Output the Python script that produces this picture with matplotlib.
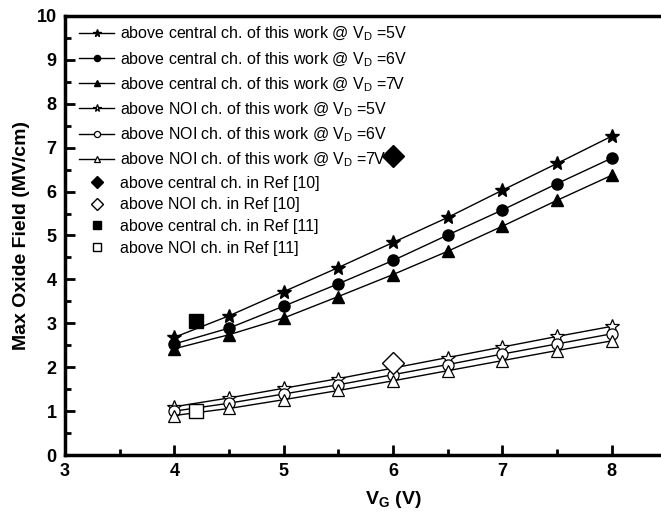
import matplotlib
matplotlib.use("Agg")
import matplotlib.pyplot as plt
from matplotlib.ticker import MultipleLocator, FixedLocator

plt.rcParams['font.family'] = ['Liberation Sans', 'DejaVu Sans']
plt.rcParams['mathtext.fontset'] = 'custom'
plt.rcParams['mathtext.rm'] = 'Liberation Sans'
plt.rcParams['mathtext.it'] = 'Liberation Sans'
plt.rcParams['mathtext.bf'] = 'Liberation Sans:bold'

# Gate voltage sweep
vg = [4.0, 4.5, 5.0, 5.5, 6.0, 6.5, 7.0, 7.5, 8.0]

# Field above the central channel of this work
central_vd5 = [2.68, 3.17, 3.72, 4.27, 4.84, 5.41, 6.03, 6.64, 7.26]
central_vd6 = [2.53, 2.89, 3.39, 3.90, 4.43, 5.01, 5.58, 6.18, 6.76]
central_vd7 = [2.42, 2.74, 3.12, 3.61, 4.11, 4.64, 5.21, 5.80, 6.37]

# Field above the NOI channel of this work
noi_vd5 = [1.10, 1.30, 1.52, 1.74, 1.98, 2.22, 2.46, 2.70, 2.93]
noi_vd6 = [1.00, 1.18, 1.39, 1.60, 1.83, 2.06, 2.30, 2.53, 2.76]
noi_vd7 = [0.90, 1.06, 1.26, 1.47, 1.69, 1.92, 2.15, 2.38, 2.60]

# Reference results
ref10_vg = 6.0
ref10_central = 6.8
ref10_noi = 2.1
ref11_vg = 4.2
ref11_central = 3.06
ref11_noi = 1.0

labels = [
    r'above central ch. of this work @ V$_\mathrm{D}$ =5V',
    r'above central ch. of this work @ V$_\mathrm{D}$ =6V',
    r'above central ch. of this work @ V$_\mathrm{D}$ =7V',
    r'above NOI ch. of this work @ V$_\mathrm{D}$ =5V',
    r'above NOI ch. of this work @ V$_\mathrm{D}$ =6V',
    r'above NOI ch. of this work @ V$_\mathrm{D}$ =7V',
    'above central ch. in Ref [10]',
    'above NOI ch. in Ref [10]',
    'above central ch. in Ref [11]',
    'above NOI ch. in Ref [11]',
]

xtick_values = [3, 4, 5, 6, 7, 8]

fig = plt.figure(figsize=(6.61, 5.13), dpi=100)
ax = fig.add_axes([0.0983, 0.113, 0.9925, 0.856])

line_kw = dict(color='black', linewidth=1.0, markeredgecolor='black')
ax.plot(vg, central_vd5, marker='*', markersize=10, markerfacecolor='black', label=labels[0], **line_kw)
ax.plot(vg, central_vd6, marker='o', markersize=8, markerfacecolor='black', label=labels[1], **line_kw)
ax.plot(vg, central_vd7, marker='^', markersize=8.5, markerfacecolor='black', label=labels[2], **line_kw)
ax.plot(vg, noi_vd5, marker='*', markersize=10, markerfacecolor='white', markeredgewidth=0.9, label=labels[3], **line_kw)
ax.plot(vg, noi_vd6, marker='o', markersize=8, markerfacecolor='white', markeredgewidth=0.9, label=labels[4], **line_kw)
ax.plot(vg, noi_vd7, marker='^', markersize=8.5, markerfacecolor='white', markeredgewidth=0.9, label=labels[5], **line_kw)

pt_kw = dict(linestyle='none', markeredgecolor='black', zorder=4)
ax.plot([ref10_vg], [ref10_central], marker='D', markersize=11, markerfacecolor='black', label=labels[6], **pt_kw)
ax.plot([ref10_vg], [ref10_noi], marker='D', markersize=11, markerfacecolor='white', markeredgewidth=1.0, label=labels[7], **pt_kw)
ax.plot([ref11_vg], [ref11_central], marker='s', markersize=10, markerfacecolor='black', label=labels[8], **pt_kw)
ax.plot([ref11_vg], [ref11_noi], marker='s', markersize=10, markerfacecolor='white', markeredgewidth=1.0, label=labels[9], **pt_kw)

ax.set_xlim(3, 9)
ax.set_ylim(0, 10)
ax.xaxis.set_major_locator(FixedLocator(xtick_values))
ax.xaxis.set_minor_locator(MultipleLocator(0.5))
ax.yaxis.set_major_locator(MultipleLocator(1))
ax.yaxis.set_minor_locator(MultipleLocator(0.5))
ax.tick_params(which='major', direction='in', length=7, width=2, labelsize=13, pad=6)
ax.tick_params(which='minor', direction='in', length=4, width=2)
for lab in ax.get_xticklabels() + ax.get_yticklabels():
    lab.set_fontweight('bold')
for sp in ax.spines.values():
    sp.set_linewidth(2.5)

ax.set_xlabel(r'$\mathbf{V_G}$ (V)', fontsize=14, fontweight='bold', labelpad=6)
ax.set_ylabel('Max Oxide Field (MV/cm)', fontsize=14, fontweight='bold', labelpad=5)

ax.legend(loc='upper left', bbox_to_anchor=(0.0, 1.012), frameon=False, fontsize=11.5,
          markerscale=0.55, handlelength=2.2, handletextpad=0.35, labelspacing=0.42,
          borderaxespad=0.6, borderpad=0.3)

fig.savefig('out.png', dpi=100)
